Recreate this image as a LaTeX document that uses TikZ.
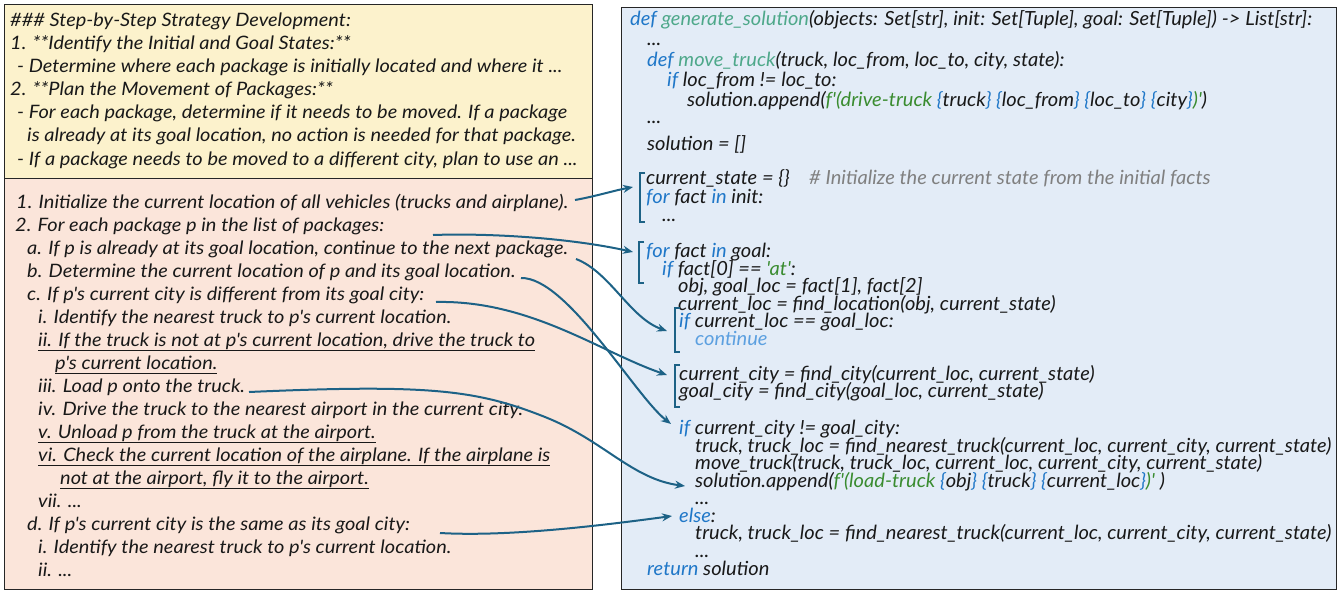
\documentclass[tikz,border=0pt]{standalone}
\usepackage{fontspec}
\usetikzlibrary{arrows.meta}
\newfontfamily\lfont{Lato}[FakeStretch=1.08]
\newfontfamily\cfont{Lato}[FakeStretch=1.03]
\definecolor{yfill}{RGB}{252,242,204}
\definecolor{pfill}{RGB}{251,229,218}
\definecolor{bfill}{RGB}{227,236,247}
\definecolor{conncol}{RGB}{29,98,134}
\definecolor{kwcol}{RGB}{31,119,200}
\definecolor{fncol}{RGB}{78,168,138}
\definecolor{strcol}{RGB}{58,140,48}
\definecolor{cmtcol}{RGB}{128,128,128}
\definecolor{contcol}{RGB}{92,160,224}
\definecolor{txtcol}{RGB}{25,25,25}
\newcommand{\kwd}[1]{\textcolor{kwcol}{#1}}
\newcommand{\fnm}[1]{\textcolor{fncol}{#1}}
\newcommand{\strg}[1]{\textcolor{strcol}{#1}}
\newcommand{\ul}[1]{\underline{#1}}
\tikzset{
  boxy/.style={draw=black!85, line width=1.2pt, fill=yfill, anchor=north west, inner sep=0pt},
  lt/.style={anchor=base west, inner sep=0pt, text=txtcol, font=\lfont\itshape\fontsize{18.5}{22}\selectfont},
  ct/.style={anchor=base west, inner sep=0pt, text=txtcol, font=\cfont\itshape\fontsize{19.5}{22}\selectfont},
  brk/.style={draw=conncol, line width=2pt},
  conn/.style={draw=conncol, line width=2pt, -{Stealth[length=10pt,width=8pt]}}
}
\begin{document}
\begin{tikzpicture}[x=1pt,y=-1pt]
\useasboundingbox (0,0) rectangle (1339,591);
% boxes
\node[boxy, fill=yfill, minimum width=588pt, minimum height=174pt] (ybox) at (4,4) {};
\node[boxy, fill=pfill, minimum width=588pt, minimum height=411pt] (pbox) at (4,178) {};
\node[boxy, fill=bfill, minimum width=715pt, minimum height=582pt] (cbox) at (621,7) {};
% yellow text
\node[lt] (y1) at (10,27) {\#\#\# Step-by-Step Strategy Development:};
\node[lt] (y2) at (10,50) {1. **Identify the Initial and Goal States:**};
\node[lt] (y3) at (17,73) {- Determine where each package is initially located and where it ...};
\node[lt] (y4) at (10,96) {2. **Plan the Movement of Packages:**};
\node[lt] (y5) at (17,119) {- For each package, determine if it needs to be moved. If a package};
\node[lt] (y6) at (27,142) {is already at its goal location, no action is needed for that package.};
\node[lt] (y7) at (17,165) {- If a package needs to be moved to a different city, plan to use an ...};
% pink text
\node[lt] (p1) at (16,208) {1. Initialize the current location of all vehicles (trucks and airplane).};
\node[lt] (p2) at (15,231) {2. For each package p in the list of packages:};
\node[lt] (p3) at (27,254) {a. If p is already at its goal location, continue to the next package.};
\node[lt] (p4) at (27,277) {b. Determine the current location of p and its goal location.};
\node[lt] (p5) at (27,300) {c. If p's current city is different from its goal city:};
\node[lt] (p6) at (38,323) {i. Identify the nearest truck to p's current location.};
\node[lt] (p7) at (38,346) {\ul{ii. If the truck is not at p's current location, drive the truck to}};
\node[lt] (p8) at (55,369) {\ul{p's current location.}};
\node[lt] (p9) at (38,392) {iii. Load p onto the truck.};
\node[lt] (p10) at (38,415) {iv. Drive the truck to the nearest airport in the current city.};
\node[lt] (p11) at (38,438) {\ul{v. Unload p from the truck at the airport.}};
\node[lt] (p12) at (38,461) {\ul{vi. Check the current location of the airplane. If the airplane is}};
\node[lt] (p13) at (60,484) {\ul{not at the airport, fly it to the airport.}};
\node[lt] (p14) at (38,507) {vii. ...};
\node[lt] (p15) at (27,530) {d. If p's current city is the same as its goal city:};
\node[lt] (p16) at (38,553) {i. Identify the nearest truck to p's current location.};
\node[lt] (p17) at (38,576) {ii. ...};
% code text
\node[ct] (c1) at (630,26) {\kwd{def} \fnm{generate\_solution}(objects: Set[str], init: Set[Tuple], goal: Set[Tuple]) -> List[str]:};
\node[ct] (c2) at (647,46) {...};
\node[ct] (c3) at (647,67) {\kwd{def} \fnm{move\_truck}(truck, loc\_from, loc\_to, city, state):};
\node[ct] (c4) at (667,87) {\kwd{if} loc\_from != loc\_to:};
\node[ct] (c5) at (687,107) {solution.append(\strg{f'(drive-truck }\kwd{\{}truck\kwd{\}} \kwd{\{}loc\_from\kwd{\}} \kwd{\{}loc\_to\kwd{\}} \kwd{\{}city\kwd{\}}\strg{)'})};
\node[ct] (c6) at (647,124) {...};
\node[ct] (c7) at (647,150) {solution = []};
\node[ct] (c8) at (646,185) {current\_state = \{\}\quad\textcolor{cmtcol}{\# Initialize the current state from the initial facts}};
\node[ct] (c9) at (646,203) {\kwd{for} fact \kwd{in} init:};
\node[ct] (c10) at (662,221) {...};
\node[ct] (c11) at (646,257) {\kwd{for} fact \kwd{in} goal:};
\node[ct] (c12) at (662,275) {\kwd{if} fact[0] == \strg{'at'}:};
\node[ct] (c13) at (678,292) {obj, goal\_loc = fact[1], fact[2]};
\node[ct] (c14) at (678,310) {current\_loc = find\_location(obj, current\_state)};
\node[ct] (c15) at (679,327) {\kwd{if} current\_loc == goal\_loc:};
\node[ct] (c16) at (695,345) {\textcolor{contcol}{continue}};
\node[ct] (c17) at (679,380) {current\_city = find\_city(current\_loc, current\_state)};
\node[ct] (c18) at (679,397) {goal\_city = find\_city(goal\_loc, current\_state)};
\node[ct] (c19) at (679,434) {\kwd{if} current\_city != goal\_city:};
\node[ct] (c20) at (695,452) {truck, truck\_loc = find\_nearest\_truck(current\_loc, current\_city, current\_state)};
\node[ct] (c21) at (695,469) {move\_truck(truck, truck\_loc, current\_loc, current\_city, current\_state)};
\node[ct] (c22) at (695,487) {solution.append(\strg{f'(load-truck }\kwd{\{}obj\kwd{\}} \kwd{\{}truck\kwd{\}} \kwd{\{}current\_loc\kwd{\}}\strg{)'} )};
\node[ct] (c23) at (695,504) {...};
\node[ct] (c24) at (679,522) {\kwd{else}:};
\node[ct] (c25) at (695,539) {truck, truck\_loc = find\_nearest\_truck(current\_loc, current\_city, current\_state)};
\node[ct] (c26) at (695,557) {...};
\node[ct] (c27) at (647,575) {\kwd{return} solution};
% brackets
\draw[brk] (645,173) -- (640,173) -- (640,222) -- (645,222);
\draw[brk] (644,242) -- (639,242) -- (639,283) -- (644,283);
\draw[brk] (680,308) -- (675,308) -- (675,352) -- (680,352);
\draw[brk] (680,365) -- (675,365) -- (675,407) -- (680,407);
% connector end points
\coordinate (a1s) at (575,200);
\coordinate (a1e) at (633,187);
\coordinate (a2s) at (433,235);
\coordinate (a2e) at (633,252);
\coordinate (a3s) at (576,259);
\coordinate (a3e) at (667,331);
\coordinate (a4s) at (521,278);
\coordinate (a4e) at (671,424);
\coordinate (a5s) at (436,302);
\coordinate (a5e) at (667,375);
\coordinate (a6s) at (249,392);
\coordinate (a6m) at (545,417);
\coordinate (a6e) at (685,486);
\coordinate (a7s) at (440,533);
\coordinate (a7e) at (672,516);
% connectors
\draw[conn] (a1s) .. controls (597,196) and (612,191) .. (a1e);
\draw[conn] (a2s) .. controls (490,233) and (570,238) .. (a2e);
\draw[conn] (a3s) .. controls (610,272) and (630,318) .. (a3e);
\draw[conn] (a4s) .. controls (567,277) and (635,396) .. (a4e);
\draw[conn] (a5s) .. controls (530,300) and (600,352) .. (a5e);
\draw[conn] (a6s) .. controls (430,384) and (477,390) .. (a6m) .. controls (603,440) and (632,479) .. (a6e);
\draw[conn] (a7s) .. controls (510,537) and (605,525) .. (a7e);
\end{tikzpicture}
\end{document}
